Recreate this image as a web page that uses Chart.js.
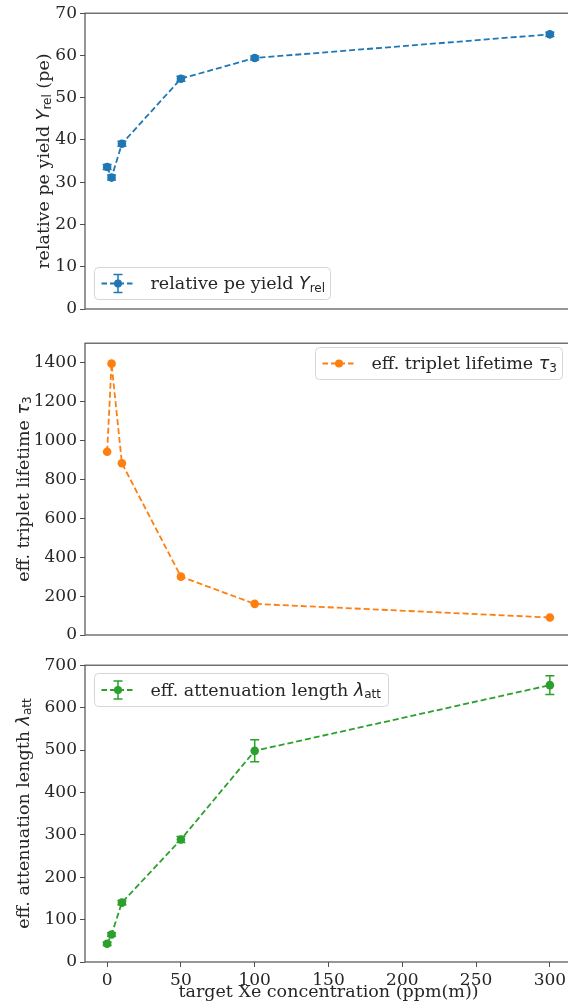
<!DOCTYPE html>
<html>
<head>
<meta charset="utf-8">
<script src="https://cdn.jsdelivr.net/npm/chart.js@4.4.1/dist/chart.umd.min.js"></script>
<style>
  body { margin: 0; background: #fff; width: 568px; height: 1008px; overflow: hidden; position: relative; }
  canvas { position: absolute; left: 0; }
</style>
</head>
<body>
<canvas id="c1" width="580" height="330" style="top:0px"></canvas>
<canvas id="c2" width="580" height="322" style="top:330px"></canvas>
<canvas id="c3" width="580" height="356" style="top:652px"></canvas>
<script>
// data
const xeConc = [0, 3, 10, 50, 100, 300];
const xTicks = [0, 50, 100, 150, 200, 250, 300];

const peYield = [33.6, 31.1, 39.1, 54.5, 59.4, 65.0];
const peYieldErr = [0.6, 0.6, 0.6, 0.6, 0.5, 0.5];
const peTicks = [0, 10, 20, 30, 40, 50, 60, 70];

const tripletLife = [942, 1395, 883, 300, 160, 90];
const lifeTicks = [0, 200, 400, 600, 800, 1000, 1200, 1400];

const attLength = [43, 65, 140, 289, 498, 653];
const attLengthErr = [4, 4, 5, 7, 26, 22];
const attTicks = [0, 100, 200, 300, 400, 500, 600, 700];

const SERIF = '17.5px "DejaVu Serif"';
const MATH = 'italic 17.5px "DejaVu Sans"';
const SUB = '12px "DejaVu Sans"';
const INK = '#262626';

function richText(ctx, parts, x, y, align) {
  let w = 0;
  parts.forEach(p => { ctx.font = p[1]; w += ctx.measureText(p[0]).width; });
  let cx = align === 'center' ? x - w / 2 : x;
  parts.forEach(p => {
    ctx.font = p[1];
    ctx.fillText(p[0], cx, y + (p[2] || 0));
    cx += ctx.measureText(p[0]).width;
  });
}

function drawErr(ctx, cx, top, bot, color) {
  ctx.save();
  ctx.strokeStyle = color;
  ctx.lineWidth = 1.5;
  ctx.setLineDash([]);
  ctx.beginPath();
  ctx.moveTo(cx, top); ctx.lineTo(cx, bot);
  ctx.moveTo(cx - 4.5, top); ctx.lineTo(cx + 4.5, top);
  ctx.moveTo(cx - 4.5, bot); ctx.lineTo(cx + 4.5, bot);
  ctx.stroke();
  ctx.restore();
}

const extras = {
  id: 'extras',
  beforeDatasetsDraw(chart) {
    const ds = chart.data.datasets[0];
    if (!ds.errs) return;
    const ctx = chart.ctx, xs = chart.scales.x, ys = chart.scales.y;
    ds.data.forEach((p, i) => {
      const e = ds.errs[i];
      drawErr(ctx, xs.getPixelForValue(p.x), ys.getPixelForValue(p.y + e), ys.getPixelForValue(p.y - e), ds.borderColor);
    });
  },
  afterDraw(chart, args, o) {
    const ctx = chart.ctx, a = chart.chartArea;
    const ds = chart.data.datasets[0];
    ctx.save();
    // frame
    ctx.strokeStyle = '#505050';
    ctx.lineWidth = 1.2;
    ctx.strokeRect(a.left, a.top, a.right - a.left, a.bottom - a.top);

    // y title
    ctx.fillStyle = INK;
    ctx.textBaseline = 'middle';
    ctx.save();
    ctx.translate(o.yTitleX, (a.top + a.bottom) / 2);
    ctx.rotate(-Math.PI / 2);
    richText(ctx, o.yTitle, 0, 0, 'center');
    ctx.restore();

    // x title
    if (o.xTitle) {
      ctx.textBaseline = 'alphabetic';
      richText(ctx, o.xTitle, (a.left + a.right) / 2, o.xTitleY, 'center');
    }

    // legend
    const L = o.legend;
    ctx.beginPath();
    ctx.roundRect(L.x, L.y, L.w, L.h, 4);
    ctx.fillStyle = 'rgba(255,255,255,0.85)';
    ctx.fill();
    ctx.strokeStyle = '#d6d6d6';
    ctx.lineWidth = 1;
    ctx.stroke();
    const my = L.y + L.h / 2;
    const lx = L.x + 7;
    ctx.strokeStyle = ds.borderColor;
    ctx.lineWidth = 1.8;
    ctx.setLineDash([5.5, 3]);
    ctx.beginPath();
    ctx.moveTo(lx, my); ctx.lineTo(lx + 33, my);
    ctx.stroke();
    ctx.setLineDash([]);
    if (ds.errs) drawErr(ctx, lx + 16.5, my - 9, my + 9, ds.borderColor);
    ctx.fillStyle = ds.borderColor;
    ctx.beginPath();
    ctx.arc(lx + 16.5, my, 4, 0, Math.PI * 2);
    ctx.fill();
    ctx.fillStyle = INK;
    ctx.textBaseline = 'middle';
    richText(ctx, o.legendText, lx + 49, my + 1, 'left');
    ctx.restore();
  }
};

function makeChart(id, vals, errs, color, yMax, yTicks, cfg) {
  const ds = {
    data: xeConc.map((x, i) => ({ x: x, y: vals[i] })),
    borderColor: color,
    backgroundColor: color,
    borderWidth: 1.8,
    borderDash: [6, 3],
    pointRadius: 4.3,
    pointBorderWidth: 0,
    pointBackgroundColor: color,
    tension: 0,
    showLine: true
  };
  if (errs) ds.errs = errs;
  return new Chart(document.getElementById(id), {
    type: 'line',
    data: { datasets: [ds] },
    plugins: [extras],
    options: {
      responsive: false,
      animation: false,
      layout: { padding: { top: cfg.padTop, right: 8, left: 0, bottom: 0 } },
      plugins: {
        legend: { display: false },
        tooltip: { enabled: false },
        extras: cfg.extras
      },
      scales: {
        x: {
          type: 'linear',
          min: -15, max: 315,
          afterBuildTicks: s => { s.ticks = xTicks.map(v => ({ value: v })); },
          afterFit: s => { s.height = cfg.xHeight; },
          border: { display: false },
          grid: { display: cfg.showX, drawOnChartArea: false, drawTicks: true, tickLength: 5, color: '#505050' },
          ticks: { display: cfg.showX, padding: 3, color: INK, font: { family: 'DejaVu Serif', size: 17 },
                   callback: v => String(v) }
        },
        y: {
          min: 0, max: yMax,
          afterBuildTicks: s => { s.ticks = yTicks.map(v => ({ value: v })); },
          afterFit: s => { s.width = 85; },
          border: { display: false },
          grid: { drawOnChartArea: false, drawTicks: true, tickLength: 5, color: '#505050' },
          ticks: { padding: 3, color: INK, font: { family: 'DejaVu Serif', size: 17 },
                   callback: v => String(v) }
        }
      }
    }
  });
}

makeChart('c1', peYield, peYieldErr, '#1f77b4', 70, peTicks, {
  padTop: 13, xHeight: 21, showX: false,
  extras: {
    yTitleX: 44,
    yTitle: [['relative pe yield ', SERIF], ['Y', MATH], ['rel', SUB, 4], [' (pe)', SERIF]],
    legend: { x: 94.5, y: 267.5, w: 236, h: 32 },
    legendText: [['relative pe yield ', SERIF], ['Y', MATH], ['rel', SUB, 4]]
  }
});

makeChart('c2', tripletLife, null, '#ff7f0e', 1500, lifeTicks, {
  padTop: 8, xHeight: 17, showX: false,
  extras: {
    yTitleX: 24,
    yTitle: [['eff. triplet lifetime ', SERIF], ['\u03C4', MATH], ['3', SUB, 4]],
    legend: { x: 315.5, y: 17.5, w: 247, h: 32 },
    legendText: [['eff. triplet lifetime ', SERIF], ['\u03C4', MATH], ['3', SUB, 4]]
  }
});

makeChart('c3', attLength, attLengthErr, '#2ca02c', 700, attTicks, {
  padTop: 13, xHeight: 46, showX: true,
  extras: {
    yTitleX: 24,
    yTitle: [['eff. attenuation length ', SERIF], ['\u03BB', MATH], ['att', SUB, 4]],
    xTitle: [['target Xe concentration (ppm(m))', SERIF]],
    xTitleY: 345,
    legend: { x: 94.5, y: 21.5, w: 294, h: 33 },
    legendText: [['eff. attenuation length ', SERIF], ['\u03BB', MATH], ['att', SUB, 4]]
  }
});
</script>
</body>
</html>
